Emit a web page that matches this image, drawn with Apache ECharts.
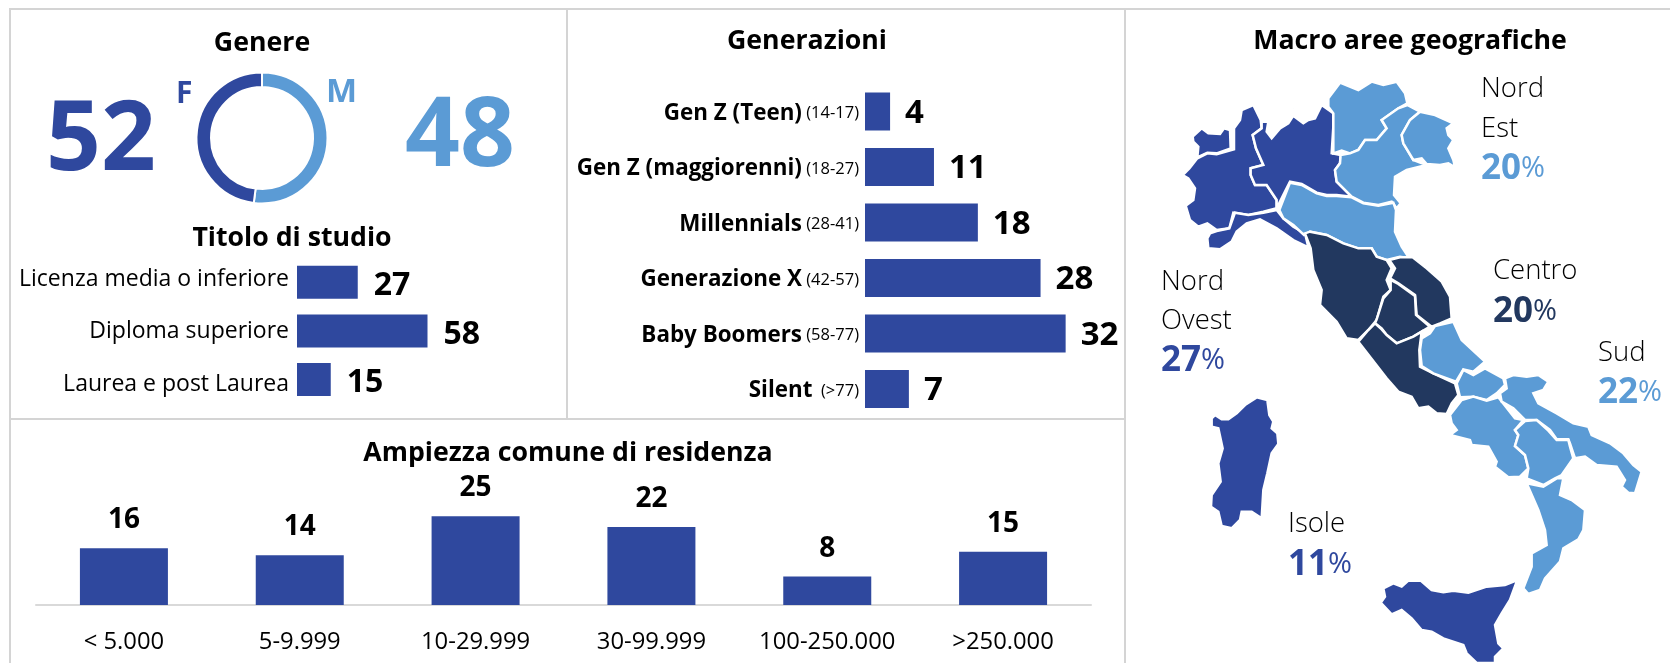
<!DOCTYPE html>
<html>
<head>
<meta charset="utf-8">
<title>Profilo campione</title>
<script src="https://cdn.jsdelivr.net/npm/echarts@6/dist/echarts.min.js"></script>
<style>
html, body { margin: 0; padding: 0; background: #fff; }
#main { width: 1670px; height: 663px; }
</style>
</head>
<body>
<div id="main"></div>
<script>
// data
const genderNames = ['M', 'F'];
const genderValues = [48, 52];
// the ring in the picture gives the light arc (M) the larger share
const ringValues = [52, 48];

const studyLabels = ['Licenza media o inferiore', 'Diploma superiore', 'Laurea e post Laurea'];
const studyValues = [27, 58, 15];

const genLabels = ['Gen Z (Teen)', 'Gen Z (maggiorenni)', 'Millennials', 'Generazione X', 'Baby Boomers', 'Silent'];
const genAges = ['(14-17)', '(18-27)', '(28-41)', '(42-57)', '(58-77)', ' (>77)'];
const genValues = [4, 11, 18, 28, 32, 7];

const townLabels = ['< 5.000', '5-9.999', '10-29.999', '30-99.999', '100-250.000', '>250.000'];
const townValues = [16, 14, 25, 22, 8, 15];

const areaNames = ['Nord Ovest', 'Nord Est', 'Centro', 'Sud', 'Isole'];
const areaShares = [27, 20, 20, 22, 11];

const nordOvest = ["Valle d'Aosta", 'Piemonte', 'Lombardia', 'Liguria'];
const nordEst = ['Trentino-Alto Adige', 'Veneto', 'Friuli-Venezia Giulia', 'Emilia-Romagna'];
const centro = ['Toscana', 'Marche', 'Umbria', 'Lazio'];
const sud = ['Abruzzo', 'Molise', 'Campania', 'Puglia', 'Basilicata', 'Calabria'];
const isole = ['Sardegna', 'Sicilia'];

const DARK = '#2F489E';
const LIGHT = '#5B9BD5';
const NAVY = '#22385F';
const FONT = '"Open Sans"';

// region outlines (3 units = 1px)
const south = pts => pts.map(([x, y]) => [x + 180, y + 840]);
const regionOutlines = {
    "Valle d'Aosta": [[218,230],[245,205],[265,220],[300,222],[312,205],[330,210],[332,265],[290,280],[262,278],[232,292],[235,260],[220,245]],
    'Piemonte': [[232,295],[208,325],[188,345],[205,355],[225,385],[220,420],[197,437],[210,480],[235,500],[262,490],[290,510],[328,505],[340,458],[385,465],[430,455],[470,445],[470,420],[440,375],[405,375],[392,345],[392,325],[430,315],[408,265],[398,225],[425,205],[422,180],[400,135],[365,150],[360,180],[342,205],[342,268],[290,283],[262,280]],
    'Lombardia': [[425,185],[445,185],[440,215],[455,235],[480,205],[505,190],[518,170],[520,145],[523,170],[550,190],[565,180],[585,175],[605,135],[640,160],[640,200],[635,280],[662,285],[660,310],[645,330],[650,365],[695,410],[650,405],[620,405],[590,398],[545,372],[510,365],[495,395],[470,445],[470,420],[440,375],[405,375],[392,345],[392,325],[430,315],[408,265],[398,225],[425,205]],
    'Liguria': [[262,535],[265,565],[300,568],[335,545],[350,515],[380,490],[420,478],[470,505],[520,540],[565,562],[555,520],[520,500],[490,475],[470,450],[430,458],[385,465],[345,458],[328,505],[290,513],[270,520]],
    'Trentino-Alto Adige': [[625,115],[660,68],[715,90],[755,65],[790,75],[830,65],[855,100],[862,130],[835,145],[785,180],[800,205],[770,240],[735,240],[715,270],[690,280],[665,272],[640,280],[640,160],[625,140]],
    'Veneto': [[862,135],[900,155],[870,180],[845,225],[850,250],[880,300],[920,315],[860,330],[825,350],[822,405],[842,430],[830,445],[815,425],[775,435],[730,428],[695,410],[650,365],[645,330],[660,310],[662,285],[690,280],[715,270],[735,240],[770,240],[800,205],[785,180],[835,145]],
    'Friuli-Venezia Giulia': [[900,155],[945,165],[1000,190],[980,205],[985,225],[1000,240],[985,265],[1000,300],[1005,322],[985,310],[960,315],[920,312],[905,295],[880,300],[850,250],[845,225],[870,180]],
    'Emilia-Romagna': [[478,450],[510,368],[545,375],[590,400],[620,408],[650,408],[695,412],[730,430],[775,437],[820,428],[828,450],[825,515],[845,560],[868,595],[840,590],[800,600],[770,590],[755,565],[715,565],[670,550],[620,525],[570,515],[552,525],[520,495],[490,475]],
    'Toscana': [[555,520],[570,515],[620,525],[670,550],[715,565],[755,565],[770,590],[800,600],[815,625],[800,660],[812,690],[790,710],[770,780],[745,810],[715,840],[680,835],[650,785],[620,755],[600,735],[605,690],[580,630],[572,565]],
    'Marche': [[808,600],[840,592],[878,592],[920,625],[965,665],[990,710],[995,775],[960,790],[935,800],[890,765],[885,705],[835,670],[810,655],[825,625]],
    'Umbria': [[812,660],[835,672],[885,708],[888,765],[930,800],[905,815],[880,830],[830,850],[800,825],[785,805],[765,790],[770,778],[790,715],[812,690]],
    'Lazio': [[715,845],[745,810],[765,790],[785,808],[800,825],[830,850],[880,830],[905,815],[898,870],[900,920],[940,940],[1005,970],[1015,1005],[995,1030],[980,1062],[950,1060],[925,1040],[895,1045],[875,1010],[835,995],[800,955]],
    'Abruzzo': [[900,870],[905,835],[930,820],[945,798],[1000,785],[1025,840],[1095,905],[1060,935],[1030,928],[1008,965],[940,940],[905,918]],
    'Molise': south([[830,130],[850,90],[880,105],[915,85],[970,115],[975,135],[950,160],[920,180],[880,170],[840,172]]),
    'Campania': south([[810,225],[845,180],[880,170],[920,182],[955,172],[1005,235],[1030,240],[1005,270],[1015,285],[1005,318],[1035,345],[1045,385],[1020,410],[985,412],[945,380],[950,365],[925,320],[875,315],[870,300],[810,285],[830,270],[815,250]]),
    'Puglia': south([[975,115],[1000,105],[1040,110],[1075,105],[1105,125],[1090,150],[1060,160],[1075,190],[1130,220],[1180,250],[1225,260],[1235,285],[1290,310],[1330,340],[1360,375],[1385,395],[1365,460],[1345,458],[1325,440],[1335,420],[1310,380],[1250,375],[1215,350],[1185,355],[1170,310],[1165,298],[1130,298],[1110,270],[1070,240],[1035,240],[1000,205],[965,185],[960,160],[980,145]]),
    'Basilicata': south([[1005,270],[1035,243],[1070,240],[1105,272],[1130,300],[1165,300],[1170,320],[1180,355],[1145,405],[1125,415],[1090,435],[1040,415],[1045,385],[1035,345],[1005,318],[1015,285]]),
    'Calabria': south([[1040,430],[1090,440],[1130,415],[1150,415],[1140,465],[1175,480],[1215,510],[1210,570],[1195,598],[1150,625],[1140,665],[1095,715],[1080,750],[1045,762],[1030,745],[1055,680],[1055,640],[1100,615],[1095,570],[1075,510]]),
    'Sardegna': south([[95,260],[95,235],[105,225],[125,238],[145,238],[170,220],[195,195],[230,172],[262,180],[268,225],[280,245],[275,265],[292,280],[295,312],[275,340],[262,400],[250,450],[245,535],[215,515],[185,515],[180,540],[155,565],[125,558],[115,515],[93,500],[95,465],[122,425],[115,370],[128,325],[115,265]]),
    'Sicilia': south([[610,745],[640,730],[665,740],[685,722],[722,722],[755,750],[790,757],[820,752],[865,758],[920,740],[975,735],[1012,720],[990,780],[965,820],[945,855],[955,910],[970,925],[945,950],[945,969],[890,969],[860,940],[850,915],[790,895],[755,875],[725,870],[695,835],[665,810],[635,823],[602,788],[615,770]])
};

const italyGeo = {
    type: 'FeatureCollection',
    features: Object.keys(regionOutlines).map(name => ({
        type: 'Feature',
        properties: { name: name },
        geometry: { type: 'Polygon', coordinates: [regionOutlines[name].map(([x, y]) => [x, -y])] }
    }))
};
echarts.registerMap('italia', italyGeo);

const regionData = [];
[[nordOvest, DARK], [nordEst, LIGHT], [centro, NAVY], [sud, LIGHT], [isole, DARK]].forEach(([names, color]) => {
    names.forEach(n => regionData.push({ name: n, value: 1, itemStyle: { areaColor: color, color: color } }));
});

const chart = echarts.init(document.getElementById('main'));

const heading = (text, x, y) => ({
    text: text,
    left: x,
    top: y,
    textAlign: 'center',
    textStyle: { fontFamily: FONT, fontSize: 26.7, fontWeight: 'bold', color: '#000' }
});

const rule = (x1, y1, x2, y2) => ({
    type: 'line',
    shape: { x1: x1, y1: y1, x2: x2, y2: y2 },
    style: { stroke: '#d4d4d4', lineWidth: 2 },
    silent: true
});

const plain = (text, x, y, size, color, weight) => ({
    type: 'text',
    x: x,
    y: y,
    silent: true,
    style: {
        text: text,
        fontFamily: FONT,
        fontSize: size,
        fontWeight: weight || 'normal',
        fill: color,
        align: 'left',
        verticalAlign: 'middle'
    }
});

const share = (i, x, y, color) => ({
    type: 'text',
    x: x,
    y: y,
    silent: true,
    style: {
        text: '{n|' + areaShares[i] + '}{p|%}',
        verticalAlign: 'middle',
        rich: {
            n: { fontFamily: FONT, fontSize: 35, fontWeight: 'bold', fill: color, color: color },
            p: { fontFamily: FONT, fontSize: 29, fill: color, color: color }
        }
    }
});

// "Nord Ovest" and "Nord Est" are broken on two rows in the picture
const areaRows = name => name.split(' ');

const option = {
    animation: false,
    backgroundColor: '#fff',
    title: [
        heading('Genere', 257, 25),
        heading('Generazioni', 802, 23),
        heading('Titolo di studio', 287, 220),
        heading('Ampiezza comune di residenza', 563, 435),
        heading('Macro aree geografiche', 1405, 23)
    ],
    grid: [
        { left: 297, top: 258, width: 225, height: 145.8 },
        { left: 865, top: 83.7, width: 250.8, height: 333 },
        { left: 36, top: 498.5, width: 1055, height: 106.5 }
    ],
    xAxis: [
        { gridIndex: 0, type: 'value', min: 0, max: 100, show: false },
        { gridIndex: 1, type: 'value', min: 0, max: 40, show: false },
        {
            gridIndex: 2,
            type: 'category',
            data: townLabels,
            axisTick: { show: false },
            axisLine: { lineStyle: { color: '#d9d9d9', width: 2 } },
            axisLabel: { interval: 0, fontFamily: FONT, fontSize: 23.8, color: '#000', margin: 25 }
        }
    ],
    yAxis: [
        {
            gridIndex: 0,
            type: 'category',
            inverse: true,
            data: studyLabels,
            axisLine: { show: false },
            axisTick: { show: false },
            axisLabel: {
                interval: 0,
                margin: 8,
                fontFamily: FONT,
                fontSize: 23,
                color: '#000',
                // the labels are spaced a bit wider than the bars
                formatter: (v, i) => '{s' + i + '|' + v + '}',
                rich: {
                    s0: { fontFamily: FONT, fontSize: 23, color: '#000', padding: [0, 0, 5, 0] },
                    s1: { fontFamily: FONT, fontSize: 23, color: '#000', padding: [1, 0, 0, 0] },
                    s2: { fontFamily: FONT, fontSize: 23, color: '#000', padding: [9, 0, 0, 0] }
                }
            }
        },
        {
            gridIndex: 1,
            type: 'category',
            inverse: true,
            data: genLabels,
            axisLine: { show: false },
            axisTick: { show: false },
            axisLabel: {
                interval: 0,
                margin: 6,
                formatter: (v, i) => '{name|' + v + '}{age| ' + genAges[i] + '}',
                rich: {
                    name: { fontFamily: FONT, fontSize: 22.4, fontWeight: 'bold', color: '#000', padding: [4, 0, 0, 0] },
                    age: { fontFamily: FONT, fontSize: 16.5, color: '#000', padding: [4, 0, 0, 0] }
                }
            }
        },
        { gridIndex: 2, type: 'value', min: 0, max: 30, show: false }
    ],
    series: [
        {
            type: 'pie',
            center: [262, 138],
            radius: [51, 65.5],
            startAngle: 90,
            silent: true,
            label: { show: false },
            labelLine: { show: false },
            itemStyle: { borderColor: '#fff', borderWidth: 2 },
            data: [
                { name: genderNames[0], value: ringValues[0], itemStyle: { color: LIGHT } },
                { name: genderNames[1], value: ringValues[1], itemStyle: { color: DARK } }
            ]
        },
        {
            type: 'bar',
            xAxisIndex: 0,
            yAxisIndex: 0,
            data: studyValues,
            barWidth: 33,
            itemStyle: { color: DARK },
            silent: true,
            label: {
                show: true,
                position: 'right',
                distance: 16,
                offset: [0, 3.5],
                fontFamily: FONT,
                fontSize: 32,
                fontWeight: 'bold',
                color: '#000'
            }
        },
        {
            type: 'bar',
            xAxisIndex: 1,
            yAxisIndex: 1,
            data: genValues,
            barWidth: 38,
            itemStyle: { color: DARK },
            silent: true,
            label: {
                show: true,
                position: 'right',
                distance: 15,
                offset: [0, 2],
                fontFamily: FONT,
                fontSize: 33,
                fontWeight: 'bold',
                color: '#000'
            }
        },
        {
            type: 'bar',
            xAxisIndex: 2,
            yAxisIndex: 2,
            data: townValues,
            barWidth: 88,
            itemStyle: { color: DARK },
            silent: true,
            label: {
                show: true,
                position: 'top',
                distance: 14,
                fontFamily: FONT,
                fontSize: 28,
                fontWeight: 'bold',
                color: '#000'
            }
        },
        {
            type: 'map',
            map: 'italia',
            roam: false,
            silent: true,
            aspectScale: 1,
            left: 1120,
            top: 60,
            width: 550,
            height: 603,
            boundingCoords: [[0, 0], [1650, -1809]],
            selectedMode: false,
            label: { show: false },
            itemStyle: { borderColor: '#fff', borderWidth: 2.5 },
            data: regionData
        }
    ],
    graphic: [
        rule(9, 9, 1670, 9),
        rule(10, 9, 10, 663),
        rule(567, 9, 567, 419),
        rule(1125, 9, 1125, 663),
        rule(10, 419, 1125, 419),
        plain(String(genderValues[1]), 46, 143, 96, DARK, 'bold'),
        plain(String(genderValues[0]), 405, 139, 96, LIGHT, 'bold'),
        plain(genderNames[1], 176, 94, 30, DARK, 'bold'),
        plain(genderNames[0], 326, 93, 33, LIGHT, 'bold'),
        plain(areaRows(areaNames[1])[0], 1481, 89, 27.5, '#000', 300),
        plain(areaRows(areaNames[1])[1], 1481, 129, 27.5, '#000', 300),
        share(1, 1481, 169, LIGHT),
        plain(areaNames[2], 1493, 271, 27.5, '#000', 300),
        share(2, 1493, 312, NAVY),
        plain(areaNames[3], 1598, 353, 27.5, '#000', 300),
        share(3, 1598, 393, LIGHT),
        plain(areaRows(areaNames[0])[0], 1161, 282, 27.5, '#000', 300),
        plain(areaRows(areaNames[0])[1], 1161, 321, 27.5, '#000', 300),
        share(0, 1161, 361, DARK),
        plain(areaNames[4], 1288, 524, 27.5, '#000', 300),
        share(4, 1288, 565, DARK)
    ]
};

chart.setOption(option);
</script>
</body>
</html>
